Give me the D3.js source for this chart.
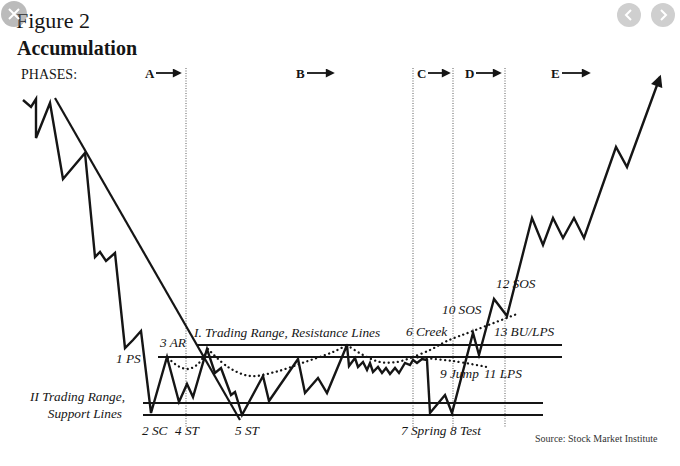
<!DOCTYPE html>
<html><head><meta charset="utf-8">
<script src="https://cdn.jsdelivr.net/npm/d3@7"></script>
<style>html,body{margin:0;padding:0;background:#fff;}svg{display:block;}</style>
</head><body>
<svg id="chart" width="680" height="466"></svg>
<script>
// ---------- DATA (time units, price levels) ----------
const priceTime  = [23,31,36,36,50,63,85,95,100,106,115,125,133,141,151,167,179,187,193,207,215,221,231,235,242,263,269,298,305,318,327,347,349,355,358,363,367,370,373,378,382,386,390,395,399,405,410,413,417,422,427,430,445,452,473,479,494,507,532,543,553,563,574,584,616,627,660];
const priceLevel = [366,359,367,328,363,287,313,209,214,205,213,118,126,135,53,109,64,82,69,117,93,98,71,74,51,90,65,107,73,88,73,121,100,108,99,104,96,103,94,99,93,98,92,98,93,103,101,106,103,107,106,53,71,53,133,111,167,150,248,221,248,228,248,228,319,299,389];

const trendTime = [55,240];
const trendLevel = [368,46];

const resistanceLevels = [121,109];
const resistanceStart = [197,158];
const resistanceEnd = [562,562];
const supportLevels = [63,51];
const supportStart = [143,143];
const supportEnd = [543,543];

const arcTimes = [
  [168,178,188,198,208],
  [208,228,250,275,305,333,347],
  [347,363,380,397,413],
  [413,430,447,473,517],
  [413,453,487]
];
const arcLevels = [
  [108,100,97,102,117],
  [117,99,90,94,104,114,121],
  [121,111,104,104,109],
  [109,116,125,135,152],
  [109,105,99]
];

const phaseNames = ["A","B","C","D","E"];
const phaseLabelTime = [145,296,417,465,551];
const phaseArrowEnd = [183,336,452,503,592];
const phaseLevel = 393;
const dividerTimes = [186,413,453,505];
const dividerTop = 398, dividerBottom = 38;

const eventLabels = ["1 PS","3 AR","I. Trading Range, Resistance Lines","II Trading Range,","Support Lines","2 SC","4 ST","5 ST","6 Creek","7 Spring","8 Test","9 Jump","11 LPS","10 SOS","12 SOS","13 BU/LPS"];
const eventTime  = [116,160,194,125,122,142,175,235,406,401,450,440,484,442,496,494];
const eventLevel = [103,119,129,65,48,31,31,31,130,31,31,88,88,152,178,130];
const eventAnchor = ["start","start","start","end","end","start","start","start","start","start","start","start","start","start","start","start"];

// ---------- SCALES ----------
const x = d3.scaleLinear().domain([0,680]).range([0,680]);
const y = d3.scaleLinear().domain([0,466]).range([466,0]);

const svg = d3.select("#chart");
const ink = "#151515";

svg.append("defs").append("marker")
  .attr("id","ah").attr("viewBox","0 0 10 10").attr("refX",8).attr("refY",5)
  .attr("markerWidth",5.5).attr("markerHeight",5).attr("orient","auto")
  .append("path").attr("d","M0,0L10,5L0,10Z").attr("fill",ink);

// Title
svg.append("text").attr("x",16).attr("y",28).text("Figure 2")
  .attr("font-family","Liberation Serif").attr("font-size",22).attr("fill",ink);
svg.append("text").attr("x",17).attr("y",55).text("Accumulation")
  .attr("font-family","Liberation Serif").attr("font-weight","bold").attr("font-size",20).attr("fill",ink);
svg.append("text").attr("x",21).attr("y",79).text("PHASES:")
  .attr("font-family","Liberation Serif").attr("font-size",14).attr("fill",ink);

// Phase dividers
svg.selectAll(".div").data(dividerTimes).enter().append("line")
  .attr("x1",d=>x(d)).attr("x2",d=>x(d)).attr("y1",y(dividerTop)).attr("y2",y(dividerBottom))
  .attr("stroke","#777").attr("stroke-width",1.2).attr("stroke-dasharray","1,1.5");

// Phase labels with arrows
phaseNames.forEach((p,i)=>{
  svg.append("text").attr("x",x(phaseLabelTime[i])).attr("y",y(phaseLevel)+5).text(p)
    .attr("font-family","Liberation Serif").attr("font-weight","bold").attr("font-size",13).attr("fill",ink);
  svg.append("line").attr("x1",x(phaseLabelTime[i])+11).attr("x2",x(phaseArrowEnd[i])-3)
    .attr("y1",y(phaseLevel)).attr("y2",y(phaseLevel)).attr("stroke",ink).attr("stroke-width",1.8)
    .attr("marker-end","url(#ah)");
});

// Horizontal range lines
const hl = (lv,s,e,w)=>svg.append("line").attr("x1",x(s)).attr("x2",x(e)).attr("y1",y(lv)).attr("y2",y(lv))
  .attr("stroke",ink).attr("stroke-width",w);
resistanceLevels.forEach((lv,i)=>hl(lv,resistanceStart[i],resistanceEnd[i],2));
supportLevels.forEach((lv,i)=>hl(lv,supportStart[i],supportEnd[i],2));

// Dotted arcs
const arcGen = d3.line().x(d=>x(d[0])).y(d=>y(d[1])).curve(d3.curveCatmullRom);
arcTimes.forEach((ts,i)=>{
  svg.append("path").attr("d",arcGen(ts.map((t,j)=>[t,arcLevels[i][j]])))
    .attr("fill","none").attr("stroke",ink).attr("stroke-width",2.3)
    .attr("stroke-linecap","round").attr("stroke-dasharray","0.1,4.5");
});

// Trend line
svg.append("line").attr("x1",x(trendTime[0])).attr("y1",y(trendLevel[0]))
  .attr("x2",x(trendTime[1])).attr("y2",y(trendLevel[1])).attr("stroke",ink).attr("stroke-width",2.2);

// Price path
const priceGen = d3.line().x(d=>x(d[0])).y(d=>y(d[1]));
svg.append("path").attr("d",priceGen(priceTime.map((t,i)=>[t,priceLevel[i]])))
  .attr("fill","none").attr("stroke",ink).attr("stroke-width",2.4).attr("stroke-linejoin","miter")
  .attr("marker-end","url(#ah)");

// Event labels
eventLabels.forEach((t,i)=>{
  svg.append("text").attr("x",x(eventTime[i])).attr("y",y(eventLevel[i])).text(t)
    .attr("text-anchor",eventAnchor[i])
    .attr("font-family","Liberation Serif").attr("font-style","italic").attr("font-size",13.3).attr("fill",ink);
});

// Source
svg.append("text").attr("x",535).attr("y",442).text("Source: Stock Market Institute")
  .attr("font-family","Liberation Serif").attr("font-size",10).attr("fill","#333");

// Viewer overlay buttons
const ov = svg.append("g");
ov.append("circle").attr("cx",14).attr("cy",14).attr("r",13).attr("fill","rgba(120,120,120,0.5)");
ov.append("path").attr("d","M9,9L19,19M19,9L9,19").attr("stroke","#fff").attr("stroke-width",2);
ov.append("circle").attr("cx",629).attr("cy",15).attr("r",12).attr("fill","#cfcfcf");
ov.append("path").attr("d","M631,10L626,15L631,20").attr("stroke","#fff").attr("stroke-width",2).attr("fill","none");
ov.append("circle").attr("cx",663).attr("cy",15).attr("r",12).attr("fill","#cfcfcf");
ov.append("path").attr("d","M661,10L666,15L661,20").attr("stroke","#fff").attr("stroke-width",2).attr("fill","none");
</script>
</body></html>
